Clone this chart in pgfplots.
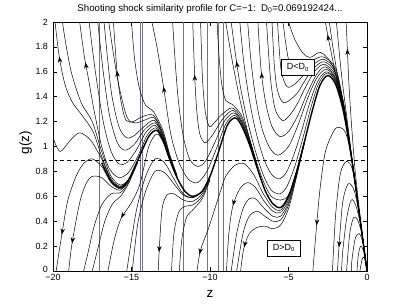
\documentclass[border=0pt]{standalone}
\usepackage{fontspec}
\setmainfont{Liberation Sans}
\usepackage{pgfplots}
\pgfplotsset{compat=1.18}
\usetikzlibrary{decorations.markings,arrows.meta}
\tikzset{arr/.style={postaction={decorate},decoration={markings,mark=at position #1 with {\arrow{Stealth[length=6bp,width=4.5bp]}}}}}
\pgfplotsset{cv/.style={black, line width=0.5pt, smooth, mark=none},
  vl/.style={color={rgb,255:red,115;green,115;blue,128}, line width=0.5pt, mark=none}}
\begin{document}
\begin{tikzpicture}
\useasboundingbox (-53bp,-34bp) rectangle (353bp,271bp);
\begin{axis}[
  at={(0,0)}, anchor=south west,
  scale only axis, width=314bp, height=249bp,
  xmin=-20, xmax=0, ymin=0, ymax=2,
  xtick={-20,-15,-10,-5,0}, xticklabels={−20,−15,−10,−5,0},
  ytick={0,0.2,0.4,0.6,0.8,1,1.2,1.4,1.6,1.8,2},
  yticklabels={\raisebox{2.5bp}{0},0.2,0.4,0.6,0.8,1,1.2,1.4,1.6,1.8,2},
  tick align=inside, tick pos=both, major tick length=4bp,
  tick style={black, line width=0.5pt},
  axis line style={black, line width=0.6pt},
  ticklabel style={font=\fontsize{9}{10}\selectfont},
  yticklabel style={xshift=-1.5bp},
  xlabel={z}, ylabel={g(z)},
  xlabel style={at={(axis description cs:0.5,-0.108)}, anchor=base, font=\fontsize{13.5}{15}\selectfont},
  ylabel style={at={(axis description cs:-0.0764,0.515)}, anchor=base, font=\fontsize{13.5}{15}\selectfont},
  title={Shooting shock similarity profile for C=−1:\ \ D\textsubscript{0}=0.069192424...},
  every axis title shift=0pt,
  title style={at={(axis description cs:0.5,1)}, anchor=base, yshift=10.5bp, font=\fontsize{9.7}{11}\selectfont},
]
% vertical singular lines
\addplot[vl] coordinates {(-17.07,0)(-17.07,2)};
\addplot[vl] coordinates {(-14.46,0)(-14.46,2)};
\addplot[vl] coordinates {(-14.33,0)(-14.33,2)};
\addplot[vl] coordinates {(-11.72,0)(-11.72,2)};
\addplot[vl] coordinates {(-10.19,0)(-10.19,2)};
\addplot[vl] coordinates {(-9.49,0)(-9.49,2)};
\addplot[vl] coordinates {(-9.17,0)(-9.17,2)};
% dashed level
\addplot[black, line width=0.5pt, dash pattern=on 4bp off 3bp] coordinates {(-20,0.89)(0,0.89)};
% straight early exits (up)
\addplot[cv, arr=-27pt] coordinates {(0,0)(-0.4,0.4)(-0.75,0.8)(-1.0,1.2)(-1.15,1.5)(-1.25,1.78)(-1.33,2.0)};
\addplot[cv] coordinates {(0,0)(-0.5,0.47)(-0.95,0.9)(-1.3,1.25)(-1.6,1.55)(-1.8,1.8)(-1.95,2.0)};
\addplot[cv] coordinates {(0,0)(-0.5,0.47)(-1,0.92)(-1.45,1.28)(-1.85,1.55)(-2.15,1.78)(-2.4,2.0)};
\addplot[cv, arr=-13pt] coordinates {(0,0)(-0.5,0.47)(-1,0.92)(-1.5,1.29)(-2.0,1.58)(-2.48,1.88)(-2.65,2.0)};
% arches near origin (down)
\addplot[cv, arr=-46pt] coordinates {(0,0)(-0.5,0.47)(-1,0.92)(-1.4,1.12)(-1.95,1.15)(-2.4,1.05)(-2.7,0.93)(-3.0,0.65)(-3.2,0.38)(-3.45,0)};
\addplot[cv] coordinates {(0,0)(-0.45,0.42)(-0.9,0.8)(-1.3,0.88)(-1.7,0.78)(-2.0,0.45)(-2.2,0)};
\addplot[cv, arr=-24pt] coordinates {(0,0)(-0.4,0.38)(-0.8,0.64)(-1.2,0.7)(-1.55,0.55)(-1.78,0.2)(-1.88,0)};
\addplot[cv] coordinates {(0,0)(-0.35,0.33)(-0.7,0.52)(-1.0,0.57)(-1.3,0.42)(-1.55,0.15)(-1.62,0)};
\addplot[cv] coordinates {(0,0)(-0.3,0.28)(-0.6,0.41)(-0.85,0.43)(-1.1,0.3)(-1.3,0)};
\addplot[cv] coordinates {(0,0)(-0.25,0.22)(-0.5,0.3)(-0.75,0.26)(-0.95,0.1)(-1.0,0)};
\addplot[cv] coordinates {(0,0)(-0.2,0.15)(-0.4,0.2)(-0.55,0.13)(-0.64,0)};
\addplot[cv] coordinates {(0,0)(-0.15,0.1)(-0.3,0.1)(-0.45,0)};
% U family after first max (up)
\addplot[cv] coordinates {(-4,1.04)(-4.5,0.8)(-5,0.61)(-5.5,0.57)(-6.1,0.6)(-6.6,0.72)(-7.1,0.9)(-7.6,1.12)(-8.1,1.38)(-8.6,1.7)(-9.0,2.0)};
\addplot[cv, arr=-40pt] coordinates {(0,0)(-0.5,0.47)(-1,0.92)(-1.5,1.29)(-2,1.52)(-2.55,1.59)(-3.1,1.5)(-3.6,1.3)(-4.1,1.06)(-4.6,0.84)(-5.1,0.68)(-5.55,0.62)(-6.1,0.65)(-6.6,0.77)(-7.1,0.96)(-7.6,1.2)(-8.05,1.47)(-8.4,1.76)(-8.65,2.0)};
\addplot[cv] coordinates {(0,0)(-0.5,0.47)(-1,0.92)(-1.5,1.29)(-2,1.53)(-2.6,1.6)(-3.15,1.52)(-3.7,1.33)(-4.2,1.11)(-4.7,0.92)(-5.15,0.79)(-5.6,0.74)(-6.1,0.78)(-6.6,0.91)(-7.1,1.13)(-7.5,1.38)(-7.85,1.68)(-8.1,2.0)};
\addplot[cv] coordinates {(0,0)(-0.5,0.47)(-1,0.92)(-1.5,1.3)(-2,1.54)(-2.6,1.62)(-3.2,1.55)(-3.8,1.38)(-4.4,1.17)(-5,1.0)(-5.67,0.93)(-6.2,0.99)(-6.7,1.15)(-7.1,1.4)(-7.4,1.7)(-7.6,2.0)};
\addplot[cv, arr=-51pt] coordinates {(0,0)(-0.5,0.47)(-1,0.93)(-1.5,1.31)(-2,1.55)(-2.65,1.64)(-3.2,1.58)(-3.8,1.43)(-4.4,1.25)(-5,1.12)(-5.54,1.08)(-6.05,1.16)(-6.45,1.35)(-6.75,1.62)(-6.95,2.0)};
\addplot[cv] coordinates {(0,0)(-0.5,0.47)(-1,0.93)(-1.5,1.32)(-2,1.57)(-2.7,1.66)(-3.3,1.61)(-3.9,1.48)(-4.5,1.33)(-5,1.24)(-5.4,1.21)(-5.85,1.3)(-6.15,1.55)(-6.4,2.0)};
\addplot[cv] coordinates {(0,0)(-0.5,0.47)(-1,0.93)(-1.5,1.33)(-2,1.59)(-2.7,1.68)(-3.3,1.64)(-3.9,1.54)(-4.5,1.42)(-5.3,1.35)(-5.7,1.45)(-5.9,1.65)(-6.05,2.0)};
\addplot[cv] coordinates {(0,0)(-0.5,0.47)(-1,0.93)(-1.5,1.34)(-2,1.61)(-2.75,1.7)(-3.4,1.66)(-4.0,1.58)(-4.6,1.5)(-5.1,1.48)(-5.45,1.6)(-5.6,1.8)(-5.7,2.0)};
\addplot[cv] coordinates {(0,0)(-0.5,0.47)(-1,0.94)(-1.5,1.35)(-2,1.63)(-2.8,1.72)(-3.5,1.69)(-4.2,1.65)(-4.75,1.63)(-5.0,1.7)(-5.2,1.85)(-5.35,2.0)};
\addplot[cv] coordinates {(0,0)(-0.5,0.47)(-1,0.94)(-1.5,1.36)(-2.2,1.65)(-2.8,1.745)(-3.12,1.752)(-3.63,1.715)(-4.08,1.75)(-4.6,1.86)(-5.0,2.0)};
% U family after second max (up)
\addplot[cv, arr=-66pt] coordinates {(-7,0.83)(-7.5,1.03)(-8,1.19)(-8.45,1.25)(-9,1.18)(-9.6,0.98)(-10.2,0.8)(-10.8,0.71)(-11.4,0.74)(-12,0.88)(-12.5,1.1)(-12.95,1.47)(-13.35,1.78)(-13.7,2.0)};
\addplot[cv] coordinates {(-7,0.83)(-7.5,1.04)(-8,1.2)(-8.5,1.27)(-9.1,1.2)(-9.7,1.03)(-10.3,0.88)(-10.8,0.84)(-11.3,0.9)(-11.7,1.08)(-12.0,1.35)(-12.2,1.65)(-12.38,2.0)};
\addplot[cv, arr=-53pt] coordinates {(-7,0.84)(-7.5,1.05)(-8,1.21)(-8.55,1.29)(-9.2,1.22)(-9.8,1.1)(-10.3,1.03)(-10.65,1.1)(-10.85,1.3)(-10.98,1.58)(-11.1,2.0)};
\addplot[cv] coordinates {(-7,0.84)(-7.5,1.06)(-8,1.23)(-8.6,1.31)(-9.3,1.25)(-9.8,1.18)(-10.05,1.16)(-10.3,1.28)(-10.48,1.55)(-10.6,2.0)};
\addplot[cv] coordinates {(-7,0.85)(-7.5,1.07)(-8,1.25)(-8.6,1.34)(-9.0,1.37)(-9.25,1.5)(-9.42,1.72)(-9.55,2.0)};
% U family after third max (up)
\addplot[cv, arr=-41pt] coordinates {(-12.1,0.75)(-12.55,0.89)(-13,1.06)(-13.45,1.15)(-14,1.09)(-14.6,0.92)(-15.2,0.79)(-15.8,0.75)(-16.4,0.82)(-16.9,1.0)(-17.4,1.3)(-17.75,1.55)(-18.0,1.72)(-18.3,2.0)};
\addplot[cv] coordinates {(-12.1,0.75)(-12.55,0.9)(-13,1.07)(-13.5,1.17)(-14.1,1.11)(-14.7,0.97)(-15.3,0.87)(-15.8,0.86)(-16.3,0.96)(-16.8,1.2)(-17.3,1.6)(-17.7,2.0)};
\addplot[cv] coordinates {(-12.1,0.75)(-12.55,0.9)(-13,1.08)(-13.5,1.19)(-14.2,1.13)(-14.8,1.02)(-15.4,0.97)(-15.9,1.03)(-16.4,1.25)(-16.8,1.6)(-17.15,2.0)};
\addplot[cv] coordinates {(-12.1,0.76)(-12.55,0.91)(-13,1.09)(-13.55,1.21)(-14.2,1.16)(-14.8,1.09)(-15.3,1.07)(-15.8,1.16)(-16.3,1.45)(-16.75,2.0)};
\addplot[cv] coordinates {(-12.1,0.76)(-12.55,0.91)(-13,1.1)(-13.55,1.23)(-14.2,1.21)(-14.8,1.19)(-15.3,1.24)(-15.9,1.55)(-16.45,2.0)};
\addplot[cv, arr=-49pt] coordinates {(-12.1,0.76)(-12.55,0.92)(-13,1.11)(-13.6,1.25)(-14.3,1.24)(-14.9,1.2)(-15.35,1.21)(-15.65,1.35)(-15.92,1.6)(-16.15,2.0)};
\addplot[cv] coordinates {(-12.1,0.77)(-12.55,0.93)(-13,1.13)(-13.6,1.28)(-14.1,1.33)(-14.5,1.47)(-14.8,1.7)(-15.0,2.0)};
% last-stage divergences at far left
\addplot[cv, arr=-35pt] coordinates {(-15.2,0.73)(-15.7,0.68)(-16.3,0.74)(-16.9,0.92)(-17.45,1.12)(-18.15,1.25)(-18.79,1.36)(-19.24,1.5)(-19.6,1.72)(-19.87,2.0)};
\addplot[cv] coordinates {(-15.2,0.73)(-15.7,0.69)(-16.3,0.76)(-16.9,0.96)(-17.5,1.2)(-18.2,1.35)(-18.8,1.58)(-19.15,1.8)(-19.4,2.0)};
\addplot[cv] coordinates {(-15.2,0.73)(-15.7,0.67)(-16.3,0.73)(-16.9,0.9)(-17.6,1.05)(-18.3,1.11)(-18.9,1.05)(-19.55,0.96)(-20,1.07)};
\addplot[cv, arr=-37pt] coordinates {(-15.2,0.72)(-15.7,0.66)(-16.3,0.71)(-16.9,0.84)(-17.5,0.9)(-18,0.87)(-18.5,0.77)(-19.05,0.57)(-19.43,0.3)(-19.8,0)};
\addplot[cv, arr=-28pt] coordinates {(-15.2,0.72)(-15.7,0.65)(-16.3,0.68)(-16.9,0.75)(-17.5,0.76)(-17.9,0.7)(-18.3,0.55)(-18.79,0.22)(-19.0,0)};
\addplot[cv] coordinates {(-14.6,0.88)(-15.2,0.71)(-15.7,0.63)(-16.3,0.62)(-16.9,0.53)(-17.4,0.35)(-17.8,0.13)(-18.05,0)};
\addplot[cv] coordinates {(-14.6,0.87)(-15.2,0.7)(-15.7,0.6)(-16.2,0.54)(-16.7,0.4)(-17.2,0.15)(-17.5,0)};
% down after third max / second min
\addplot[cv, arr=-55pt] coordinates {(-12.1,0.75)(-12.55,0.89)(-13,1.04)(-13.4,1.1)(-13.9,1.0)(-14.46,0.7)(-15.0,0.55)(-15.67,0.42)(-16.1,0.25)(-16.5,0)};
\addplot[cv] coordinates {(-10,0.76)(-10.5,0.64)(-11.1,0.59)(-11.7,0.62)(-12.3,0.74)(-12.9,0.87)(-13.5,0.9)(-14.1,0.76)(-14.7,0.48)(-15.3,0)};
\addplot[cv] coordinates {(-10,0.76)(-10.5,0.64)(-11.1,0.59)(-11.7,0.61)(-12.3,0.7)(-12.9,0.79)(-13.5,0.8)(-14.1,0.64)(-14.6,0.38)(-14.95,0)};
\addplot[cv, arr=-19pt] coordinates {(-10,0.75)(-10.5,0.62)(-11.1,0.56)(-11.7,0.57)(-12.3,0.62)(-12.75,0.61)(-13.05,0.5)(-13.22,0.2)(-13.3,0)};
\addplot[cv] coordinates {(-10,0.74)(-10.5,0.6)(-11.1,0.53)(-11.6,0.52)(-12.0,0.47)(-12.3,0.3)(-12.45,0)};
\addplot[cv] coordinates {(-10,0.73)(-10.5,0.58)(-11.1,0.49)(-11.5,0.43)(-11.8,0.25)(-11.95,0)};
% down after first min
\addplot[cv, arr=-17pt] coordinates {(-4.5,0.79)(-5,0.59)(-5.5,0.49)(-6,0.51)(-6.6,0.62)(-7.2,0.77)(-7.8,0.86)(-8.4,0.85)(-9.0,0.76)(-9.36,0.63)(-10.13,0.33)(-10.6,0.17)(-10.83,0)};
\addplot[cv, arr=-66pt] coordinates {(-4,1.03)(-4.5,0.78)(-5,0.57)(-5.5,0.47)(-6,0.48)(-6.6,0.57)(-7.1,0.67)(-7.6,0.71)(-8.1,0.66)(-8.55,0.52)(-8.8,0.3)(-8.95,0)};
\addplot[cv] coordinates {(-4,1.03)(-4.5,0.77)(-5,0.55)(-5.5,0.44)(-6,0.44)(-6.6,0.51)(-7.1,0.58)(-7.5,0.58)(-7.9,0.5)(-8.3,0.3)(-8.65,0)};
\addplot[cv] coordinates {(-4,1.02)(-4.5,0.76)(-5,0.53)(-5.5,0.41)(-6,0.4)(-6.5,0.44)(-7.0,0.48)(-7.5,0.44)(-7.9,0.3)(-8.3,0)};
\addplot[cv, arr=-24pt] coordinates {(-4,1.02)(-4.5,0.75)(-5,0.5)(-5.5,0.37)(-6,0.34)(-6.5,0.36)(-7.0,0.35)(-7.5,0.3)(-7.85,0.18)(-8.05,0)};
% separatrix (thick)
\addplot[black, line width=1.4pt, smooth, mark=none] coordinates {(0,0)(-0.5,0.47)(-1,0.92)(-1.5,1.28)(-2,1.5)(-2.5,1.57)(-3,1.49)(-3.5,1.28)(-4,1.03)(-4.5,0.79)(-5,0.6)(-5.5,0.51)(-6,0.54)(-6.5,0.65)(-7,0.83)(-7.5,1.02)(-8,1.17)(-8.4,1.23)(-8.9,1.17)(-9.5,0.94)(-10,0.76)(-10.5,0.64)(-11.1,0.6)(-11.6,0.64)(-12.1,0.75)(-12.55,0.89)(-13,1.05)(-13.4,1.13)(-13.9,1.08)(-14.6,0.89)(-15.2,0.73)(-15.7,0.67)(-16.3,0.72)(-16.9,0.87)};
% labels
\node[draw=black, line width=0.5pt, fill=white, inner xsep=5.5bp, inner ysep=4.5bp, font=\fontsize{9}{10}\selectfont] at (axis cs:-4.4,1.635) {D<D\textsubscript{0}};
\node[draw=black, line width=0.5pt, fill=white, inner xsep=5.5bp, inner ysep=4.5bp, font=\fontsize{9}{10}\selectfont] at (axis cs:-5.29,0.185) {D>D\textsubscript{0}};
\end{axis}
\end{tikzpicture}
\end{document}
